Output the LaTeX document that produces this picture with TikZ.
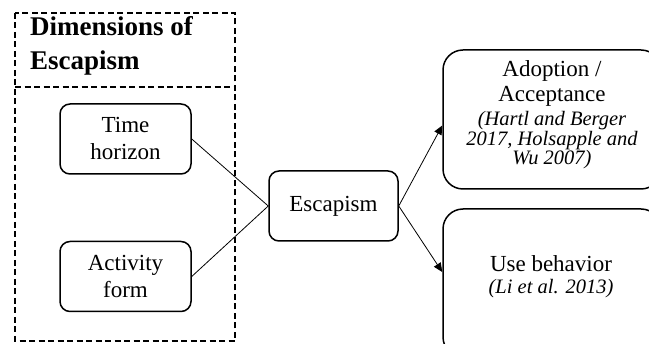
\documentclass[tikz,border=0pt]{standalone}
\usepackage{fontspec}
\setmainfont{Liberation Serif}
\usetikzlibrary{arrows.meta,calc}
\begin{document}
\begin{tikzpicture}[x=1pt,y=-1pt,
  smallbox/.style={draw, line width=1.5pt, rounded corners=10pt,
    minimum width=131pt, minimum height=70pt, inner sep=0pt,
    align=center, font=\fontsize{23}{27}\selectfont},
  bigbox/.style={draw, line width=1.5pt, rounded corners=20pt,
    minimum width=218pt, inner sep=0pt},
  lbl/.style={font=\fontsize{23}{25}\selectfont, align=center, inner sep=0pt, anchor=base},
  cite/.style={font=\fontsize{20.5}{20}\selectfont\itshape, align=center, inner sep=0pt, anchor=base},
  link/.style={line width=0.8pt},
  tip/.style={-{Triangle[length=9pt,width=8pt]}},
  grouping/.style={line width=1.5pt, dash pattern=on 6pt off 3.5pt}]
\useasboundingbox (0,0) rectangle (649,344);
\clip (0,0) rectangle (649,344);

% dashed frame holding the dimensions
\draw[grouping] (15,13) rectangle (235,341);
\draw[grouping] (15,87) -- (235,87);
\node[anchor=base west, inner sep=0pt, font=\fontsize{27}{34}\selectfont\bfseries] (title1) at (30,36) {Dimensions of};
\node[anchor=base west, inner sep=0pt, font=\fontsize{27}{34}\selectfont\bfseries] (title2) at (30,70) {Escapism};

% dimension boxes
\node[smallbox] (time) at (125.5,139) {Time\\horizon};
\node[smallbox] (act) at (125.5,276.5) {Activity\\form};

% central construct
\node[smallbox, minimum width=129pt] (esc) at (333.5,206) {Escapism};

% outcome boxes
\node[bigbox, minimum height=139pt] (adopt) at (552,119.5) {};
\node[lbl] (adopt1) at (552,77) {Adoption /};
\node[lbl] (adopt2) at (552,102) {Acceptance};
\node[cite] (adopt3) at (552,126) {(Hartl and Berger};
\node[cite] (adopt4) at (552,146) {2017, Holsapple and};
\node[cite] (adopt5) at (552,165) {Wu 2007)};

\node[bigbox, minimum height=148pt] (use) at (552,283) {};
\node[lbl] (use1) at (551,272) {Use behavior};
\node[cite] (use2) at (551,294) {(Li et al. 2013)};

% connectors
\draw[link] (time.east) -- (esc.west);
\draw[link] (act.east) -- (esc.west);
\draw[link, tip] (esc.east) -- ($(adopt.west)+(0,6)$);
\draw[link, tip] (esc.east) -- ($(use.west)+(0,-11)$);
\end{tikzpicture}
\end{document}
